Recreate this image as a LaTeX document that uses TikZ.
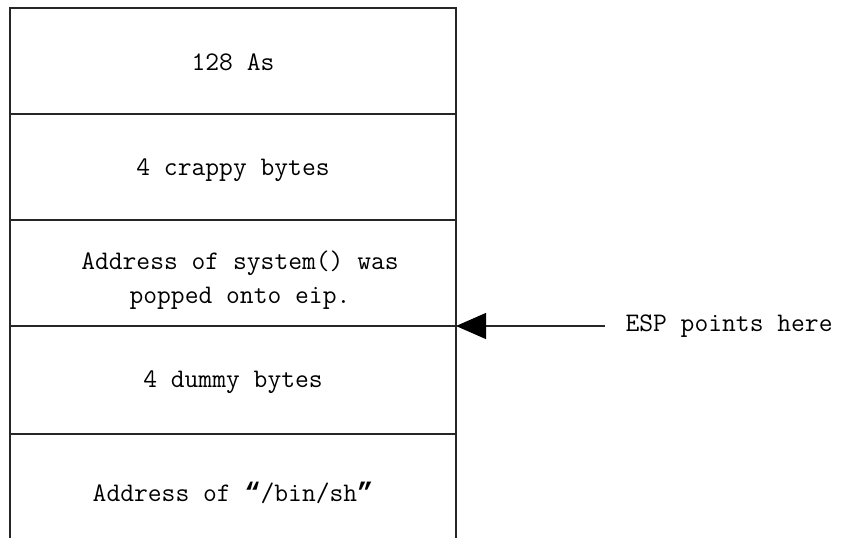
\documentclass[tikz,border=0pt]{standalone}
\usepackage{fontspec}
\newfontfamily\quotefont{Liberation Mono}
\usetikzlibrary{arrows.meta}
\begin{document}
\begin{tikzpicture}[x=1pt,y=-1pt,
  cell/.style={font=\ttfamily\fontsize{26.8}{34}\selectfont, align=center, anchor=center},
  wall/.style={line width=1.2pt, draw=black!85}]
\useasboundingbox (0,0) rectangle (847,538);
\coordinate (tl) at (10,8);
\coordinate (tr) at (456,8);
\coordinate (bl) at (10,538);
\coordinate (br) at (456,538);
\draw[wall] (bl) -- (tl) -- (tr) -- (br);
\foreach \y/\n in {114/a,220/b,326/c,434/d}{
  \coordinate (l\n) at (10,\y);
  \coordinate (r\n) at (456,\y);
  \draw[wall] (l\n) -- (r\n);
}
\node[cell] (t1) at (233,62) {128 As};
\node[cell] (t2) at (233,170) {4 crappy bytes};
\node[cell] (t3) at (240,280) {Address of system() was\\popped onto eip.};
\node[cell] (t4) at (233,382) {4 dummy bytes};
\node[cell] (t5) at (233,493) {Address of {\quotefont\bfseries“}/bin/sh{\quotefont\bfseries”}};
\node[cell, anchor=west] (esp) at (622,326) {ESP points here};
\coordinate (espend) at (605,326);
\draw[wall, -{Triangle[length=30pt,width=26pt,fill=black,color=black]}] (espend) -- (rc);
\end{tikzpicture}
\end{document}
